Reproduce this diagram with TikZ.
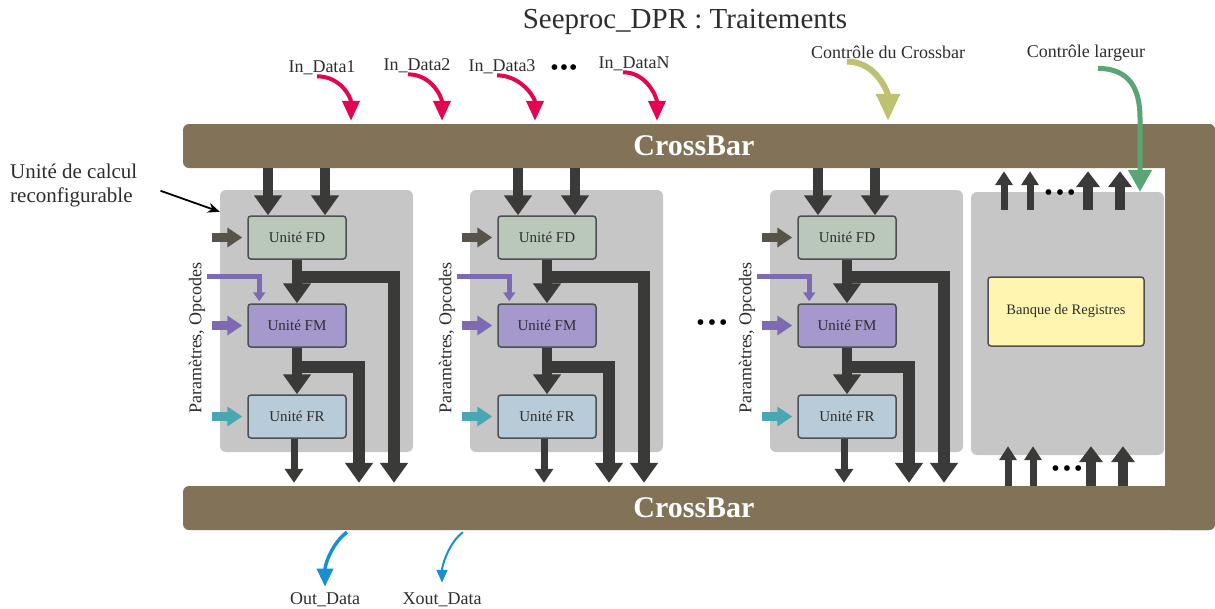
\documentclass[tikz,border=0pt]{standalone}
\usepackage{fontspec}
\setmainfont{Liberation Serif}
\usetikzlibrary{arrows.meta}

\definecolor{barbrown}{RGB}{130,114,87}
\definecolor{panelgray}{RGB}{197,198,197}
\definecolor{darkarrow}{RGB}{58,58,56}
\definecolor{boxborder}{RGB}{75,80,85}
\definecolor{textgray}{RGB}{45,45,45}
\definecolor{fdgreen}{RGB}{186,200,186}
\definecolor{fmpurple}{RGB}{165,152,204}
\definecolor{frblue}{RGB}{184,203,216}
\definecolor{regyellow}{RGB}{255,245,176}
\definecolor{fdin}{RGB}{87,83,72}
\definecolor{fmin}{RGB}{125,106,178}
\definecolor{frin}{RGB}{74,166,178}
\definecolor{datared}{RGB}{226,6,80}
\definecolor{xbarolive}{RGB}{189,193,112}
\definecolor{widthgreen}{RGB}{90,165,115}
\definecolor{outblue}{RGB}{26,142,210}

\begin{document}
\begin{tikzpicture}[x=1pt, y=-1pt,
  crossbar/.style={rectangle, fill=barbrown, rounded corners=6pt, minimum width=1032pt, minimum height=44pt, inner sep=0pt, text=white, font=\fontsize{30}{34}\selectfont\bfseries},
  panel/.style={rectangle, fill=panelgray, rounded corners=6pt, minimum width=193pt, minimum height=262pt},
  unitbox/.style={rectangle, draw=boxborder, line width=1.5pt, rounded corners=3pt, minimum width=98pt, minimum height=43pt, font=\fontsize{15}{17}\selectfont, text=textgray},
  lbl/.style={font=\fontsize{18}{21}\selectfont, text=textgray, inner sep=1pt},
  dots/.style={font=\fontsize{24}{26}\selectfont, inner sep=0pt},
  bigarrow/.style={draw=darkarrow, line width=10pt, -{Triangle[width=27pt,length=20pt]}},
  busarrow/.style={draw=darkarrow, line width=12pt, -{Triangle[width=27pt,length=20pt]}, shorten >=3pt},
  smallarrow/.style={draw=darkarrow, line width=7pt, -{Triangle[width=18pt,length=14pt]}, shorten >=3pt},
  regthin/.style={draw=darkarrow, line width=7pt, -{Triangle[width=17pt,length=14pt]}},
  regthick/.style={draw=darkarrow, line width=10pt, -{Triangle[width=23pt,length=16pt]}},
  inarrow/.style={line width=9pt, -{Triangle[width=19pt,length=15pt]}},
  paramline/.style={draw=fmin, line width=4.5pt, -{Triangle[width=12pt,length=9pt]}},
  redarrow/.style={draw=datared, line width=4pt, -{Triangle[width=17pt,length=20pt]}, shorten >=3pt},
  outarrow/.style={draw=outblue, line width=3.5pt, -{Triangle[width=16pt,length=18pt]}}
]
\useasboundingbox (0,0) rectangle (1215,608);

% Title
\node[font=\fontsize{29}{32}\selectfont, text=textgray] (title) at (685,22) {Seeproc\_DPR : Traitements};

% CrossBar frame (top bar, bottom bar, right side)
\fill[barbrown, rounded corners=6pt] (1165,124) rectangle (1215,530);
\node[crossbar] (topbar) at (699,146) {CrossBar\kern10pt};
\node[crossbar] (botbar) at (699,508) {CrossBar\kern10pt};

% Reconfigurable units
\foreach \i/\dx in {1/0, 2/250, 3/550} {
  \node[panel] (panel\i) at (316.5+\dx,321) {};
  \node[unitbox, fill=fdgreen] (fd\i) at (297+\dx,237.5) {Unité FD};
  \node[unitbox, fill=fmpurple] (fm\i) at (297+\dx,325.5) {Unité FM};
  \node[unitbox, fill=frblue] (fr\i) at (297+\dx,416.5) {Unité FR};
  \node[lbl, rotate=90] (param\i) at (197+\dx,338) {Paramètres, Opcodes};
  % crossbar to FD
  \draw[bigarrow] ([xshift=-29pt]fd\i.north |- topbar.south) -- ([xshift=-29pt]fd\i.north);
  \draw[bigarrow] ([xshift=28pt]fd\i.north |- topbar.south) -- ([xshift=28pt]fd\i.north);
  % side inputs
  \draw[inarrow, draw=fdin] ([xshift=-35pt]fd\i.west) -- ([xshift=-5pt]fd\i.west);
  \draw[inarrow, draw=fmin] ([xshift=-35pt]fm\i.west) -- ([xshift=-5pt]fm\i.west);
  \draw[inarrow, draw=frin] ([xshift=-35pt]fr\i.west) -- ([xshift=-5pt]fr\i.west);
  \draw[paramline] ([xshift=-40pt,yshift=27pt]fm\i.north west) -| ([xshift=12pt,yshift=2pt]fm\i.north west);
  % FD -> FM, FM -> FR, and the buses down to the crossbar
  \draw[bigarrow] (fd\i.south) -- (fm\i.north);
  \draw[busarrow] ([yshift=-17pt]fd\i.south) -| ([xshift=97pt]fd\i.south |- botbar.north);
  \draw[bigarrow] (fm\i.south) -- (fr\i.north);
  \draw[busarrow] ([yshift=-19pt]fm\i.south) -| ([xshift=62pt]fm\i.south |- botbar.north);
  \draw[smallarrow] ([xshift=-3pt]fr\i.south) -- ([xshift=-3pt]fr\i.south |- botbar.north);
}

\node[dots] (unitdots) at (712,325) {\textbullet\hspace{3pt}\textbullet\hspace{3pt}\textbullet};

% Register bank
\node[panel, minimum height=263pt] (regpanel) at (1067.5,323.5) {};
\node[unitbox, fill=regyellow, minimum width=156pt, minimum height=69pt, font=\fontsize{14.5}{16}\selectfont] (regbank) at (1066,311.5) {Banque de Registres};
\draw[regthin] ([xshift=-63.5pt,yshift=-18pt]regpanel.north) -- ([xshift=-63.5pt,yshift=-3pt]regpanel.north |- topbar.south);
\draw[regthin] ([xshift=-37.5pt,yshift=-18pt]regpanel.north) -- ([xshift=-37.5pt,yshift=-3pt]regpanel.north |- topbar.south);
\draw[regthick] ([xshift=20.5pt,yshift=-18pt]regpanel.north) -- ([xshift=20.5pt,yshift=-3pt]regpanel.north |- topbar.south);
\draw[regthick] ([xshift=52.5pt,yshift=-18pt]regpanel.north) -- ([xshift=52.5pt,yshift=-3pt]regpanel.north |- topbar.south);
\node[dots] (regdotstop) at (1060,195) {\textbullet\hspace{3pt}\textbullet\hspace{3pt}\textbullet};
\draw[regthin] ([xshift=-59.5pt]regpanel.south |- botbar.north) -- ([xshift=-59.5pt,yshift=9pt]regpanel.south);
\draw[regthin] ([xshift=-34.5pt]regpanel.south |- botbar.north) -- ([xshift=-34.5pt,yshift=9pt]regpanel.south);
\draw[regthick] ([xshift=23.5pt]regpanel.south |- botbar.north) -- ([xshift=23.5pt,yshift=9pt]regpanel.south);
\draw[regthick] ([xshift=55.5pt]regpanel.south |- botbar.north) -- ([xshift=55.5pt,yshift=9pt]regpanel.south);
\node[dots] (regdotsbot) at (1067,471) {\textbullet\hspace{3pt}\textbullet\hspace{3pt}\textbullet};

% Data inputs
\node[lbl] (indata1) at (322,68) {In\_Data1};
\node[lbl] (indata2) at (417,66) {In\_Data2};
\node[lbl] (indata3) at (502,67) {In\_Data3};
\node[dots] (indots) at (564,70) {\textbullet\hspace{1pt}\textbullet\hspace{1pt}\textbullet};
\node[lbl] (indataN) at (634,64) {In\_DataN};
\draw[redarrow] ([xshift=-5pt]indata1.south) .. controls +(24,0) and +(0,-26) .. ([xshift=29pt]indata1.south |- topbar.north);
\draw[redarrow] ([xshift=-9pt]indata2.south) .. controls +(24,0) and +(0,-26) .. ([xshift=25pt]indata2.south |- topbar.north);
\draw[redarrow] ([xshift=-5pt]indata3.south) .. controls +(24,0) and +(0,-26) .. ([xshift=33pt]indata3.south |- topbar.north);
\draw[redarrow] ([xshift=-11pt]indataN.south) .. controls +(24,0) and +(0,-26) .. ([xshift=23pt]indataN.south |- topbar.north);

% Controls
\node[lbl] (ctrlxbar) at (888,52) {Contrôle du Crossbar};
\node[lbl] (ctrlwidth) at (1086,53) {Contrôle largeur};
\draw[draw=xbarolive, line width=6pt, -{Triangle[width=23pt,length=27pt]}, shorten >=3pt] ([xshift=-41pt,yshift=-2pt]ctrlxbar.south) .. controls +(30,0) and +(0,-30) .. (ctrlxbar.south |- topbar.north);
\draw[draw=widthgreen, line width=5pt, -{Triangle[width=23pt,length=22pt]}] ([xshift=12pt,yshift=-6pt]ctrlwidth.south) .. controls +(32,0) and +(0,-28) .. ([xshift=72.5pt,yshift=74pt]regpanel.north) -- ([xshift=72.5pt]regpanel.north);

% Data outputs
\node[lbl] (outdata) at (325,600) {Out\_Data};
\node[lbl] (xoutdata) at (442,600) {Xout\_Data};
\draw[outarrow, shorten >=5pt] ([xshift=22pt,yshift=-2pt]outdata.north |- botbar.south) .. controls +(-14,10) and +(0,-28) .. (outdata.north);
\draw[outarrow, line width=2pt, -{Triangle[width=11pt,length=13pt]}, shorten >=9pt] ([xshift=21pt,yshift=-2pt]xoutdata.north |- botbar.south) .. controls +(-14,10) and +(0,-26) .. (xoutdata.north);

% Annotation
\node[font=\fontsize{21}{24}\selectfont, text=textgray, align=left, anchor=north west, inner sep=1pt] (unitlabel) at (9,163) {Unité de calcul\\reconfigurable};
\draw[line width=1.8pt, -{Stealth[length=12pt,width=10pt]}] ([xshift=22pt,yshift=-5pt]unitlabel.east) -- ([yshift=-22pt]panel1.north west);

\end{tikzpicture}
\end{document}
